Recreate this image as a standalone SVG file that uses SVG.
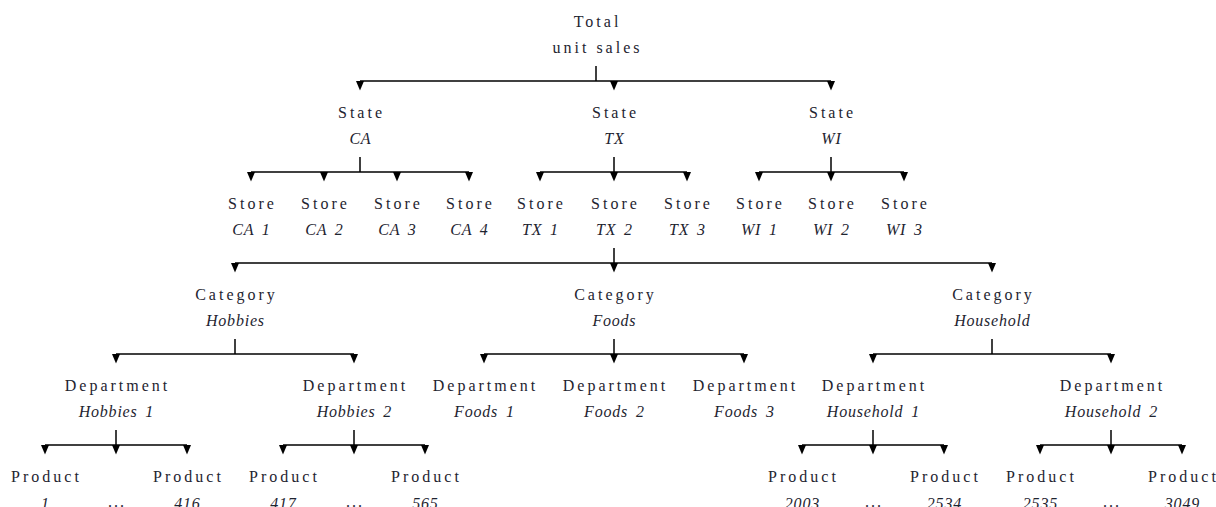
<svg xmlns="http://www.w3.org/2000/svg" xmlns:xlink="http://www.w3.org/1999/xlink" width="1216" height="507" viewBox="0 0 1216 507">
<style>
text{font-family:"Liberation Serif","DejaVu Serif",serif;font-size:16px;fill:#1e2430;text-anchor:middle}
.r{letter-spacing:3px}
.i{font-style:italic;letter-spacing:0.8px;word-spacing:3px}
.d{letter-spacing:2px}
.c line{stroke:#000;stroke-width:1.5}
.c use{fill:#000}
</style>
<defs>
<path id="ah" d="M-4,0 L4,0 L0,9.5 Z"/>
</defs>
<rect width="1216" height="507" fill="#fff"/>
<g id="connectors" class="c">
<line x1="596" y1="66" x2="596" y2="81"/><line x1="360" y1="81" x2="831" y2="81"/>
<use xlink:href="#ah" x="360" y="81"/><use xlink:href="#ah" x="614" y="81"/><use xlink:href="#ah" x="831" y="81"/>
<line x1="360" y1="157" x2="360" y2="172"/><line x1="251" y1="172" x2="469" y2="172"/>
<use xlink:href="#ah" x="251" y="172"/><use xlink:href="#ah" x="324" y="172"/><use xlink:href="#ah" x="397" y="172"/><use xlink:href="#ah" x="469" y="172"/>
<line x1="614" y1="157" x2="614" y2="172"/><line x1="540" y1="172" x2="687" y2="172"/>
<use xlink:href="#ah" x="540" y="172"/><use xlink:href="#ah" x="614" y="172"/><use xlink:href="#ah" x="687" y="172"/>
<line x1="831" y1="157" x2="831" y2="172"/><line x1="759" y1="172" x2="904" y2="172"/>
<use xlink:href="#ah" x="759" y="172"/><use xlink:href="#ah" x="831" y="172"/><use xlink:href="#ah" x="904" y="172"/>
<line x1="614" y1="248" x2="614" y2="263"/><line x1="235" y1="263" x2="992" y2="263"/>
<use xlink:href="#ah" x="235" y="263"/><use xlink:href="#ah" x="614" y="263"/><use xlink:href="#ah" x="992" y="263"/>
<line x1="235" y1="339" x2="235" y2="354"/><line x1="116" y1="354" x2="354" y2="354"/>
<use xlink:href="#ah" x="116" y="354"/><use xlink:href="#ah" x="354" y="354"/>
<line x1="614" y1="339" x2="614" y2="354"/><line x1="484" y1="354" x2="744" y2="354"/>
<use xlink:href="#ah" x="484" y="354"/><use xlink:href="#ah" x="614" y="354"/><use xlink:href="#ah" x="744" y="354"/>
<line x1="992" y1="339" x2="992" y2="354"/><line x1="873" y1="354" x2="1111" y2="354"/>
<use xlink:href="#ah" x="873" y="354"/><use xlink:href="#ah" x="1111" y="354"/>
<line x1="116" y1="430" x2="116" y2="445"/><line x1="45" y1="445" x2="187" y2="445"/>
<use xlink:href="#ah" x="45" y="445"/><use xlink:href="#ah" x="116" y="445"/><use xlink:href="#ah" x="187" y="445"/>
<line x1="354" y1="430" x2="354" y2="445"/><line x1="283" y1="445" x2="425" y2="445"/>
<use xlink:href="#ah" x="283" y="445"/><use xlink:href="#ah" x="354" y="445"/><use xlink:href="#ah" x="425" y="445"/>
<line x1="873" y1="430" x2="873" y2="445"/><line x1="802" y1="445" x2="944" y2="445"/>
<use xlink:href="#ah" x="802" y="445"/><use xlink:href="#ah" x="873" y="445"/><use xlink:href="#ah" x="944" y="445"/>
<line x1="1111" y1="430" x2="1111" y2="445"/><line x1="1040" y1="445" x2="1182" y2="445"/>
<use xlink:href="#ah" x="1040" y="445"/><use xlink:href="#ah" x="1111" y="445"/><use xlink:href="#ah" x="1182" y="445"/>
</g>
<g id="total"><text class="r" x="597.5" y="26.5">Total</text><text class="r" x="597.5" y="52.5">unit sales</text></g>
<g id="state-ca"><text class="r" x="361.5" y="117.5">State</text><text class="i" x="360.4" y="143.5">CA</text></g>
<g id="state-tx"><text class="r" x="615.5" y="117.5">State</text><text class="i" x="614.4" y="143.5">TX</text></g>
<g id="state-wi"><text class="r" x="832.5" y="117.5">State</text><text class="i" x="831.4" y="143.5">WI</text></g>
<g id="store-ca1"><text class="r" x="252.5" y="208.5">Store</text><text class="i" x="251.4" y="234.5">CA 1</text></g>
<g id="store-ca2"><text class="r" x="325.5" y="208.5">Store</text><text class="i" x="324.4" y="234.5">CA 2</text></g>
<g id="store-ca3"><text class="r" x="398.5" y="208.5">Store</text><text class="i" x="397.4" y="234.5">CA 3</text></g>
<g id="store-ca4"><text class="r" x="470.5" y="208.5">Store</text><text class="i" x="469.4" y="234.5">CA 4</text></g>
<g id="store-tx1"><text class="r" x="541.5" y="208.5">Store</text><text class="i" x="540.4" y="234.5">TX 1</text></g>
<g id="store-tx2"><text class="r" x="615.5" y="208.5">Store</text><text class="i" x="614.4" y="234.5">TX 2</text></g>
<g id="store-tx3"><text class="r" x="688.5" y="208.5">Store</text><text class="i" x="687.4" y="234.5">TX 3</text></g>
<g id="store-wi1"><text class="r" x="760.5" y="208.5">Store</text><text class="i" x="759.4" y="234.5">WI 1</text></g>
<g id="store-wi2"><text class="r" x="832.5" y="208.5">Store</text><text class="i" x="831.4" y="234.5">WI 2</text></g>
<g id="store-wi3"><text class="r" x="905.5" y="208.5">Store</text><text class="i" x="904.4" y="234.5">WI 3</text></g>
<g id="cat-hobbies"><text class="r" x="236.5" y="299.5">Category</text><text class="i" x="235.4" y="325.5">Hobbies</text></g>
<g id="cat-foods"><text class="r" x="615.5" y="299.5">Category</text><text class="i" x="614.4" y="325.5">Foods</text></g>
<g id="cat-household"><text class="r" x="993.5" y="299.5">Category</text><text class="i" x="992.4" y="325.5">Household</text></g>
<g id="dept-hobbies1"><text class="r" x="117.5" y="390.5">Department</text><text class="i" x="116.4" y="416.5">Hobbies 1</text></g>
<g id="dept-hobbies2"><text class="r" x="355.5" y="390.5">Department</text><text class="i" x="354.4" y="416.5">Hobbies 2</text></g>
<g id="dept-foods1"><text class="r" x="485.5" y="390.5">Department</text><text class="i" x="484.4" y="416.5">Foods 1</text></g>
<g id="dept-foods2"><text class="r" x="615.5" y="390.5">Department</text><text class="i" x="614.4" y="416.5">Foods 2</text></g>
<g id="dept-foods3"><text class="r" x="745.5" y="390.5">Department</text><text class="i" x="744.4" y="416.5">Foods 3</text></g>
<g id="dept-household1"><text class="r" x="874.5" y="390.5">Department</text><text class="i" x="873.4" y="416.5">Household 1</text></g>
<g id="dept-household2"><text class="r" x="1112.5" y="390.5">Department</text><text class="i" x="1111.4" y="416.5">Household 2</text></g>
<g id="prod-1"><text class="r" x="46.5" y="481.5">Product</text><text class="i" x="45.4" y="508.5">1</text></g>
<g id="prod-dots-a"><text class="d" x="117" y="506.5">...</text></g>
<g id="prod-416"><text class="r" x="188.5" y="481.5">Product</text><text class="i" x="187.4" y="508.5">416</text></g>
<g id="prod-417"><text class="r" x="284.5" y="481.5">Product</text><text class="i" x="283.4" y="508.5">417</text></g>
<g id="prod-dots-b"><text class="d" x="355" y="506.5">...</text></g>
<g id="prod-565"><text class="r" x="426.5" y="481.5">Product</text><text class="i" x="425.4" y="508.5">565</text></g>
<g id="prod-2003"><text class="r" x="803.5" y="481.5">Product</text><text class="i" x="802.4" y="508.5">2003</text></g>
<g id="prod-dots-c"><text class="d" x="874" y="506.5">...</text></g>
<g id="prod-2534"><text class="r" x="945.5" y="481.5">Product</text><text class="i" x="944.4" y="508.5">2534</text></g>
<g id="prod-2535"><text class="r" x="1041.5" y="481.5">Product</text><text class="i" x="1040.4" y="508.5">2535</text></g>
<g id="prod-dots-d"><text class="d" x="1112" y="506.5">...</text></g>
<g id="prod-3049"><text class="r" x="1183.5" y="481.5">Product</text><text class="i" x="1182.4" y="508.5">3049</text></g>
</svg>
